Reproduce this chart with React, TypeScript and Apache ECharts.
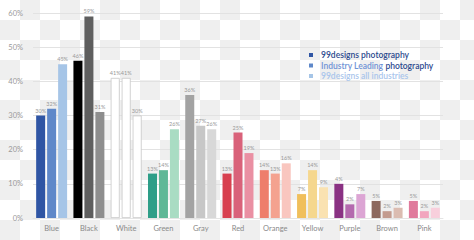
import React, { useEffect, useRef } from "react";
import * as echarts from "echarts";

const categories = ["Blue", "Black", "White", "Green", "Gray", "Red", "Orange", "Yellow", "Purple", "Brown", "Pink"];
const seriesNames = ["99designs photography", "Industry Leading photography", "99designs all industries"];

const photography = [30, 46, 41, 13, 36, 13, 14, 7, 10, 5, 5];
const industryLeading = [32, 59, 41, 14, 27, 25, 13, 14, 4, 2, 2];
const allIndustries = [45, 31, 30, 26, 26, 19, 16, 9, 7, 3, 3];

const photographyLabels = ["30%", "46%", "41%", "13%", "36%", "13%", "14%", "7%", "4%", "5%", "5%"];
const industryLeadingLabels = ["32%", "59%", "41%", "14%", "27%", "25%", "13%", "14%", "2%", "2%", "2%"];
const allIndustriesLabels = ["45%", "31%", "30%", "26%", "26%", "19%", "16%", "9%", "7%", "3%", "3%"];

const yTicks = [0, 10, 20, 30, 40, 50, 60];

const colors1 = ["#2f55a4", "#000000", "#ffffff", "#2e9e88", "#a3a3a3", "#d8404f", "#ee7e6b", "#f0bf5c", "#8a3283", "#8d695f", "#e07a9c"];
const colors2 = ["#5f88c9", "#5f5f5f", "#ffffff", "#5fb897", "#c7c7c7", "#d9627a", "#f4a28f", "#f5d78e", "#b46aae", "#c39b8f", "#f2a5be"];
const colors3 = ["#a6c5e7", "#8e8e8e", "#ffffff", "#a9dcc3", "#d8d8d8", "#ea90a3", "#f9c6bf", "#fae2b1", "#dca5d4", "#dbbcb1", "#f8cfdc"];

export default function App() {
  const ref = useRef<HTMLDivElement>(null);
  useEffect(() => {
    if (!ref.current) return;
    const chart = echarts.init(ref.current, undefined, { renderer: "svg" });
    const font = "Lato, 'Open Sans', sans-serif";
    const mk = (name: string, values: number[], labels: string[], cols: string[]) => ({
      name,
      type: "bar",
      barWidth: 9,
      barGap: "22%",
      itemStyle: { color: cols[0] },
      data: values.map((v, i) => ({
        value: v,
        itemStyle: {
          color: cols[i],
          borderColor: cols[i] === "#ffffff" ? "#c8c8c8" : cols[i],
          borderWidth: cols[i] === "#ffffff" ? 0.8 : 0,
        },
      })),
      label: {
        show: true,
        position: "top",
        distance: 2,
        fontSize: 5.5,
        color: "#999",
        fontFamily: font,
        formatter: (p: any) => labels[p.dataIndex],
      },
    });
    chart.setOption({
      animation: false,
      grid: { left: 33, right: 31, top: 13, bottom: 22 },
      legend: {
        orient: "vertical",
        left: 309,
        top: 50,
        icon: "rect",
        itemWidth: 4,
        itemHeight: 4,
        itemGap: 0.5,
        padding: 0,
        data: seriesNames,
        textStyle: {
          fontFamily: font,
          fontSize: 8.5,
          lineHeight: 10,
          fontWeight: 600,
          padding: [0, 0, 0, 3],
          rich: {
            a: { color: "#2c4a8e", fontSize: 8.5, lineHeight: 10, fontWeight: 600, fontFamily: font },
            b: { color: "#6f93d6", fontSize: 8.5, lineHeight: 10, fontWeight: 600, fontFamily: font },
            c: { color: "#a9c5ec", fontSize: 8.5, lineHeight: 10, fontWeight: 600, fontFamily: font },
          },
        },
        formatter: (n: string) => {
          if (n === seriesNames[0]) return "{a|" + n + "}";
          if (n === seriesNames[1]) return "{b|Industry Leading} {a|photography}";
          return "{c|" + n + "}";
        },
      },
      xAxis: {
        type: "category",
        data: categories,
        axisTick: { show: false },
        axisLine: { show: true, lineStyle: { color: "#e4e4e4", width: 1 } },
        axisLabel: { fontSize: 7.5, color: "#8a8a8a", margin: 6, fontFamily: font },
      },
      yAxis: {
        type: "value",
        min: yTicks[0],
        max: yTicks[yTicks.length - 1],
        interval: 10,
        axisLabel: { formatter: "{value}%", fontSize: 7.5, color: "#9a9a9a", margin: 10, fontFamily: font },
        splitLine: { lineStyle: { color: "#e2e2e2", width: 1 } },
        axisLine: { show: false },
        axisTick: { show: false },
      },
      series: [
        mk(seriesNames[0], photography, photographyLabels, colors1),
        mk(seriesNames[1], industryLeading, industryLeadingLabels, colors2),
        mk(seriesNames[2], allIndustries, allIndustriesLabels, colors3),
      ],
    });
    return () => chart.dispose();
  }, []);
  return (
    <div
      ref={ref}
      style={{
        position: "absolute",
        left: 0,
        top: 0,
        width: 474,
        height: 240,
        background: "repeating-conic-gradient(#efefef 0% 25%, #ffffff 0% 50%) 0 0 / 40px 40px",
      }}
    />
  );
}
